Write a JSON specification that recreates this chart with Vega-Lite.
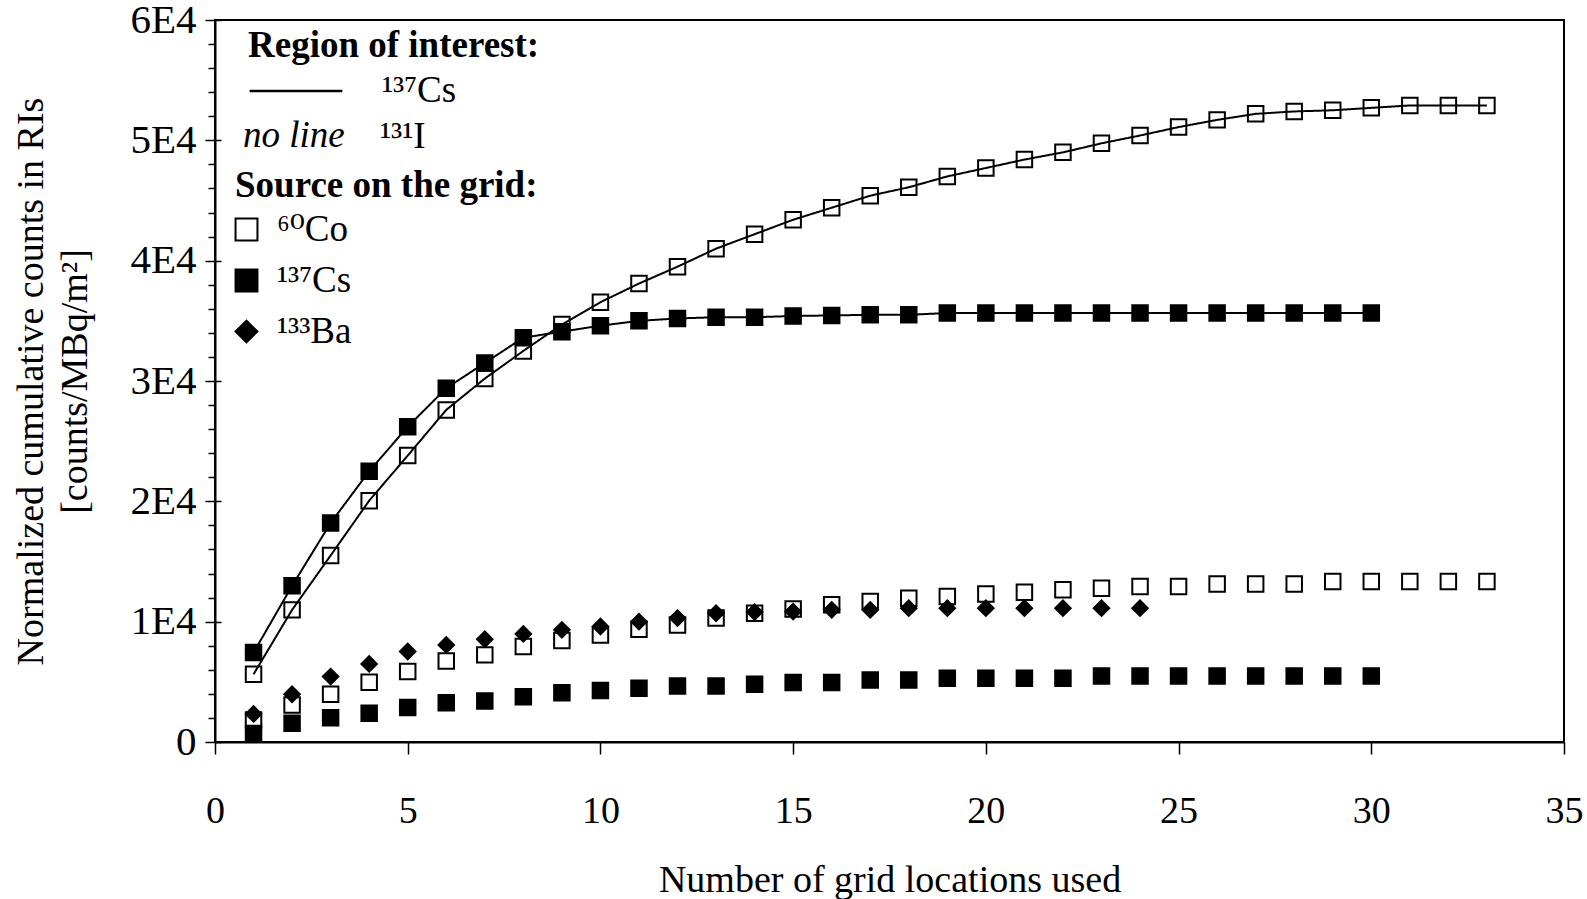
{
  "$schema": "https://vega.github.io/schema/vega-lite/v6.json",
  "width": 1349,
  "height": 722,
  "autosize": {"type": "none"},
  "padding": {"left": 215, "top": 20, "right": 23, "bottom": 157},
  "background": "white",
  "config": {
    "font": "Liberation Serif",
    "view": {"stroke": "black", "strokeWidth": 2},
    "axis": {
      "domainColor": "black", "domainWidth": 2, "tickColor": "black", "tickWidth": 1.5,
      "labelFont": "Liberation Serif", "labelFontSize": 38, "labelColor": "black",
      "titleFont": "Liberation Serif", "titleFontSize": 38, "titleFontWeight": "normal", "titleColor": "black",
      "grid": false
    },
    "legend": {
      "titleFont": "Liberation Serif", "labelFont": "Liberation Serif, DejaVu Serif", "titleColor": "black", "labelColor": "black",
      "titleFontSize": 37, "labelFontSize": 37, "padding": 0, "titleLimit": 1000, "labelLimit": 1000
    }
  },
  "data": {
    "values": [
      {"x": 1, "v": 700, "source": "¹³⁷Cs", "roi": "¹³¹I"},
      {"x": 2, "v": 1550, "source": "¹³⁷Cs", "roi": "¹³¹I"},
      {"x": 3, "v": 2020, "source": "¹³⁷Cs", "roi": "¹³¹I"},
      {"x": 4, "v": 2380, "source": "¹³⁷Cs", "roi": "¹³¹I"},
      {"x": 5, "v": 2860, "source": "¹³⁷Cs", "roi": "¹³¹I"},
      {"x": 6, "v": 3270, "source": "¹³⁷Cs", "roi": "¹³¹I"},
      {"x": 7, "v": 3410, "source": "¹³⁷Cs", "roi": "¹³¹I"},
      {"x": 8, "v": 3770, "source": "¹³⁷Cs", "roi": "¹³¹I"},
      {"x": 9, "v": 4100, "source": "¹³⁷Cs", "roi": "¹³¹I"},
      {"x": 10, "v": 4270, "source": "¹³⁷Cs", "roi": "¹³¹I"},
      {"x": 11, "v": 4460, "source": "¹³⁷Cs", "roi": "¹³¹I"},
      {"x": 12, "v": 4660, "source": "¹³⁷Cs", "roi": "¹³¹I"},
      {"x": 13, "v": 4660, "source": "¹³⁷Cs", "roi": "¹³¹I"},
      {"x": 14, "v": 4800, "source": "¹³⁷Cs", "roi": "¹³¹I"},
      {"x": 15, "v": 4940, "source": "¹³⁷Cs", "roi": "¹³¹I"},
      {"x": 16, "v": 4940, "source": "¹³⁷Cs", "roi": "¹³¹I"},
      {"x": 17, "v": 5160, "source": "¹³⁷Cs", "roi": "¹³¹I"},
      {"x": 18, "v": 5160, "source": "¹³⁷Cs", "roi": "¹³¹I"},
      {"x": 19, "v": 5300, "source": "¹³⁷Cs", "roi": "¹³¹I"},
      {"x": 20, "v": 5300, "source": "¹³⁷Cs", "roi": "¹³¹I"},
      {"x": 21, "v": 5300, "source": "¹³⁷Cs", "roi": "¹³¹I"},
      {"x": 22, "v": 5300, "source": "¹³⁷Cs", "roi": "¹³¹I"},
      {"x": 23, "v": 5490, "source": "¹³⁷Cs", "roi": "¹³¹I"},
      {"x": 24, "v": 5490, "source": "¹³⁷Cs", "roi": "¹³¹I"},
      {"x": 25, "v": 5490, "source": "¹³⁷Cs", "roi": "¹³¹I"},
      {"x": 26, "v": 5490, "source": "¹³⁷Cs", "roi": "¹³¹I"},
      {"x": 27, "v": 5490, "source": "¹³⁷Cs", "roi": "¹³¹I"},
      {"x": 28, "v": 5490, "source": "¹³⁷Cs", "roi": "¹³¹I"},
      {"x": 29, "v": 5490, "source": "¹³⁷Cs", "roi": "¹³¹I"},
      {"x": 30, "v": 5490, "source": "¹³⁷Cs", "roi": "¹³¹I"},
      {"x": 1, "v": 1830, "source": "⁶⁰Co", "roi": "¹³¹I"},
      {"x": 2, "v": 3080, "source": "⁶⁰Co", "roi": "¹³¹I"},
      {"x": 3, "v": 3970, "source": "⁶⁰Co", "roi": "¹³¹I"},
      {"x": 4, "v": 4960, "source": "⁶⁰Co", "roi": "¹³¹I"},
      {"x": 5, "v": 5850, "source": "⁶⁰Co", "roi": "¹³¹I"},
      {"x": 6, "v": 6740, "source": "⁶⁰Co", "roi": "¹³¹I"},
      {"x": 7, "v": 7240, "source": "⁶⁰Co", "roi": "¹³¹I"},
      {"x": 8, "v": 7930, "source": "⁶⁰Co", "roi": "¹³¹I"},
      {"x": 9, "v": 8430, "source": "⁶⁰Co", "roi": "¹³¹I"},
      {"x": 10, "v": 8900, "source": "⁶⁰Co", "roi": "¹³¹I"},
      {"x": 11, "v": 9370, "source": "⁶⁰Co", "roi": "¹³¹I"},
      {"x": 12, "v": 9730, "source": "⁶⁰Co", "roi": "¹³¹I"},
      {"x": 13, "v": 10300, "source": "⁶⁰Co", "roi": "¹³¹I"},
      {"x": 14, "v": 10700, "source": "⁶⁰Co", "roi": "¹³¹I"},
      {"x": 15, "v": 11060, "source": "⁶⁰Co", "roi": "¹³¹I"},
      {"x": 16, "v": 11400, "source": "⁶⁰Co", "roi": "¹³¹I"},
      {"x": 17, "v": 11670, "source": "⁶⁰Co", "roi": "¹³¹I"},
      {"x": 18, "v": 11950, "source": "⁶⁰Co", "roi": "¹³¹I"},
      {"x": 19, "v": 12090, "source": "⁶⁰Co", "roi": "¹³¹I"},
      {"x": 20, "v": 12300, "source": "⁶⁰Co", "roi": "¹³¹I"},
      {"x": 21, "v": 12450, "source": "⁶⁰Co", "roi": "¹³¹I"},
      {"x": 22, "v": 12650, "source": "⁶⁰Co", "roi": "¹³¹I"},
      {"x": 23, "v": 12780, "source": "⁶⁰Co", "roi": "¹³¹I"},
      {"x": 24, "v": 12920, "source": "⁶⁰Co", "roi": "¹³¹I"},
      {"x": 25, "v": 12920, "source": "⁶⁰Co", "roi": "¹³¹I"},
      {"x": 26, "v": 13140, "source": "⁶⁰Co", "roi": "¹³¹I"},
      {"x": 27, "v": 13140, "source": "⁶⁰Co", "roi": "¹³¹I"},
      {"x": 28, "v": 13140, "source": "⁶⁰Co", "roi": "¹³¹I"},
      {"x": 29, "v": 13340, "source": "⁶⁰Co", "roi": "¹³¹I"},
      {"x": 30, "v": 13340, "source": "⁶⁰Co", "roi": "¹³¹I"},
      {"x": 31, "v": 13340, "source": "⁶⁰Co", "roi": "¹³¹I"},
      {"x": 32, "v": 13340, "source": "⁶⁰Co", "roi": "¹³¹I"},
      {"x": 33, "v": 13340, "source": "⁶⁰Co", "roi": "¹³¹I"},
      {"x": 1, "v": 2330, "source": "¹³³Ba", "roi": "¹³¹I"},
      {"x": 2, "v": 3970, "source": "¹³³Ba", "roi": "¹³¹I"},
      {"x": 3, "v": 5440, "source": "¹³³Ba", "roi": "¹³¹I"},
      {"x": 4, "v": 6490, "source": "¹³³Ba", "roi": "¹³¹I"},
      {"x": 5, "v": 7520, "source": "¹³³Ba", "roi": "¹³¹I"},
      {"x": 6, "v": 8070, "source": "¹³³Ba", "roi": "¹³¹I"},
      {"x": 7, "v": 8540, "source": "¹³³Ba", "roi": "¹³¹I"},
      {"x": 8, "v": 8980, "source": "¹³³Ba", "roi": "¹³¹I"},
      {"x": 9, "v": 9320, "source": "¹³³Ba", "roi": "¹³¹I"},
      {"x": 10, "v": 9600, "source": "¹³³Ba", "roi": "¹³¹I"},
      {"x": 11, "v": 10000, "source": "¹³³Ba", "roi": "¹³¹I"},
      {"x": 12, "v": 10300, "source": "¹³³Ba", "roi": "¹³¹I"},
      {"x": 13, "v": 10700, "source": "¹³³Ba", "roi": "¹³¹I"},
      {"x": 14, "v": 10800, "source": "¹³³Ba", "roi": "¹³¹I"},
      {"x": 15, "v": 10840, "source": "¹³³Ba", "roi": "¹³¹I"},
      {"x": 16, "v": 10980, "source": "¹³³Ba", "roi": "¹³¹I"},
      {"x": 17, "v": 10980, "source": "¹³³Ba", "roi": "¹³¹I"},
      {"x": 18, "v": 11120, "source": "¹³³Ba", "roi": "¹³¹I"},
      {"x": 19, "v": 11120, "source": "¹³³Ba", "roi": "¹³¹I"},
      {"x": 20, "v": 11120, "source": "¹³³Ba", "roi": "¹³¹I"},
      {"x": 21, "v": 11120, "source": "¹³³Ba", "roi": "¹³¹I"},
      {"x": 22, "v": 11120, "source": "¹³³Ba", "roi": "¹³¹I"},
      {"x": 23, "v": 11120, "source": "¹³³Ba", "roi": "¹³¹I"},
      {"x": 24, "v": 11120, "source": "¹³³Ba", "roi": "¹³¹I"},
      {"x": 1, "v": 7430, "source": "¹³⁷Cs", "roi": "¹³⁷Cs"},
      {"x": 2, "v": 12980, "source": "¹³⁷Cs", "roi": "¹³⁷Cs"},
      {"x": 3, "v": 18200, "source": "¹³⁷Cs", "roi": "¹³⁷Cs"},
      {"x": 4, "v": 22500, "source": "¹³⁷Cs", "roi": "¹³⁷Cs"},
      {"x": 5, "v": 26200, "source": "¹³⁷Cs", "roi": "¹³⁷Cs"},
      {"x": 6, "v": 29400, "source": "¹³⁷Cs", "roi": "¹³⁷Cs"},
      {"x": 7, "v": 31500, "source": "¹³⁷Cs", "roi": "¹³⁷Cs"},
      {"x": 8, "v": 33600, "source": "¹³⁷Cs", "roi": "¹³⁷Cs"},
      {"x": 9, "v": 34100, "source": "¹³⁷Cs", "roi": "¹³⁷Cs"},
      {"x": 10, "v": 34600, "source": "¹³⁷Cs", "roi": "¹³⁷Cs"},
      {"x": 11, "v": 35000, "source": "¹³⁷Cs", "roi": "¹³⁷Cs"},
      {"x": 12, "v": 35200, "source": "¹³⁷Cs", "roi": "¹³⁷Cs"},
      {"x": 13, "v": 35300, "source": "¹³⁷Cs", "roi": "¹³⁷Cs"},
      {"x": 14, "v": 35300, "source": "¹³⁷Cs", "roi": "¹³⁷Cs"},
      {"x": 15, "v": 35400, "source": "¹³⁷Cs", "roi": "¹³⁷Cs"},
      {"x": 16, "v": 35450, "source": "¹³⁷Cs", "roi": "¹³⁷Cs"},
      {"x": 17, "v": 35500, "source": "¹³⁷Cs", "roi": "¹³⁷Cs"},
      {"x": 18, "v": 35500, "source": "¹³⁷Cs", "roi": "¹³⁷Cs"},
      {"x": 19, "v": 35650, "source": "¹³⁷Cs", "roi": "¹³⁷Cs"},
      {"x": 20, "v": 35650, "source": "¹³⁷Cs", "roi": "¹³⁷Cs"},
      {"x": 21, "v": 35650, "source": "¹³⁷Cs", "roi": "¹³⁷Cs"},
      {"x": 22, "v": 35650, "source": "¹³⁷Cs", "roi": "¹³⁷Cs"},
      {"x": 23, "v": 35650, "source": "¹³⁷Cs", "roi": "¹³⁷Cs"},
      {"x": 24, "v": 35650, "source": "¹³⁷Cs", "roi": "¹³⁷Cs"},
      {"x": 25, "v": 35650, "source": "¹³⁷Cs", "roi": "¹³⁷Cs"},
      {"x": 26, "v": 35650, "source": "¹³⁷Cs", "roi": "¹³⁷Cs"},
      {"x": 27, "v": 35650, "source": "¹³⁷Cs", "roi": "¹³⁷Cs"},
      {"x": 28, "v": 35650, "source": "¹³⁷Cs", "roi": "¹³⁷Cs"},
      {"x": 29, "v": 35650, "source": "¹³⁷Cs", "roi": "¹³⁷Cs"},
      {"x": 30, "v": 35650, "source": "¹³⁷Cs", "roi": "¹³⁷Cs"},
      {"x": 1, "v": 5630, "source": "⁶⁰Co", "roi": "¹³⁷Cs"},
      {"x": 2, "v": 10980, "source": "⁶⁰Co", "roi": "¹³⁷Cs"},
      {"x": 3, "v": 15500, "source": "⁶⁰Co", "roi": "¹³⁷Cs"},
      {"x": 4, "v": 20050, "source": "⁶⁰Co", "roi": "¹³⁷Cs"},
      {"x": 5, "v": 23800, "source": "⁶⁰Co", "roi": "¹³⁷Cs"},
      {"x": 6, "v": 27600, "source": "⁶⁰Co", "roi": "¹³⁷Cs"},
      {"x": 7, "v": 30200, "source": "⁶⁰Co", "roi": "¹³⁷Cs"},
      {"x": 8, "v": 32500, "source": "⁶⁰Co", "roi": "¹³⁷Cs"},
      {"x": 9, "v": 34700, "source": "⁶⁰Co", "roi": "¹³⁷Cs"},
      {"x": 10, "v": 36550, "source": "⁶⁰Co", "roi": "¹³⁷Cs"},
      {"x": 11, "v": 38100, "source": "⁶⁰Co", "roi": "¹³⁷Cs"},
      {"x": 12, "v": 39500, "source": "⁶⁰Co", "roi": "¹³⁷Cs"},
      {"x": 13, "v": 41000, "source": "⁶⁰Co", "roi": "¹³⁷Cs"},
      {"x": 14, "v": 42200, "source": "⁶⁰Co", "roi": "¹³⁷Cs"},
      {"x": 15, "v": 43400, "source": "⁶⁰Co", "roi": "¹³⁷Cs"},
      {"x": 16, "v": 44400, "source": "⁶⁰Co", "roi": "¹³⁷Cs"},
      {"x": 17, "v": 45400, "source": "⁶⁰Co", "roi": "¹³⁷Cs"},
      {"x": 18, "v": 46100, "source": "⁶⁰Co", "roi": "¹³⁷Cs"},
      {"x": 19, "v": 47000, "source": "⁶⁰Co", "roi": "¹³⁷Cs"},
      {"x": 20, "v": 47700, "source": "⁶⁰Co", "roi": "¹³⁷Cs"},
      {"x": 21, "v": 48400, "source": "⁶⁰Co", "roi": "¹³⁷Cs"},
      {"x": 22, "v": 49000, "source": "⁶⁰Co", "roi": "¹³⁷Cs"},
      {"x": 23, "v": 49750, "source": "⁶⁰Co", "roi": "¹³⁷Cs"},
      {"x": 24, "v": 50400, "source": "⁶⁰Co", "roi": "¹³⁷Cs"},
      {"x": 25, "v": 51100, "source": "⁶⁰Co", "roi": "¹³⁷Cs"},
      {"x": 26, "v": 51700, "source": "⁶⁰Co", "roi": "¹³⁷Cs"},
      {"x": 27, "v": 52200, "source": "⁶⁰Co", "roi": "¹³⁷Cs"},
      {"x": 28, "v": 52400, "source": "⁶⁰Co", "roi": "¹³⁷Cs"},
      {"x": 29, "v": 52500, "source": "⁶⁰Co", "roi": "¹³⁷Cs"},
      {"x": 30, "v": 52700, "source": "⁶⁰Co", "roi": "¹³⁷Cs"},
      {"x": 31, "v": 52900, "source": "⁶⁰Co", "roi": "¹³⁷Cs"},
      {"x": 32, "v": 52900, "source": "⁶⁰Co", "roi": "¹³⁷Cs"},
      {"x": 33, "v": 52900, "source": "⁶⁰Co", "roi": "¹³⁷Cs"}
    ]
  },
  "resolve": {"axis": {"y": "independent"}},
  "layer": [
    {
      "transform": [{"filter": "datum.roi == '¹³⁷Cs'"}],
      "mark": {"type": "line", "color": "black", "strokeWidth": 2},
      "encoding": {
        "x": {
          "field": "x", "type": "quantitative",
          "scale": {"domain": [0, 35], "nice": false, "zero": false},
          "axis": {"values": [0, 5, 10, 15, 20, 25, 30, 35], "tickSize": 12, "labelPadding": 38, "title": "Number of grid locations used", "titlePadding": 31, "labelFlush": false}
        },
        "y": {
          "field": "v", "type": "quantitative",
          "scale": {"domain": [0, 60000], "nice": false},
          "axis": {
            "orient": "left",
            "values": [0, 10000, 20000, 30000, 40000, 50000, 60000],
            "labelExpr": "datum.value == 0 ? '0' : (datum.value / 10000) + 'E4'",
            "labelFontSize": 41,
            "tickSize": 10, "labelPadding": 9, "labelFlush": false,
            "title": ["Normalized cumulative counts in RIs", "[counts/MBq/m²]"],
            "titlePadding": 35, "titleLineHeight": 44
          }
        },
        "detail": {"field": "source", "type": "nominal"},
        "strokeDash": {
          "field": "roi", "type": "nominal",
          "scale": {"domain": ["¹³⁷Cs"], "range": [[1, 0]]},
          "legend": {
            "title": "Region of interest:", "orient": "none", "legendX": 33, "legendY": 8,
            "titleFontWeight": "bold", "titlePadding": -22,
            "symbolType": "stroke", "symbolSize": 8600, "symbolStrokeWidth": 2.5, "symbolStrokeColor": "black",
            "labelOffset": 38
          }
        }
      }
    },
    {
      "transform": [{"filter": "datum.roi == '¹³¹I'"}],
      "mark": {"type": "point", "filled": true, "strokeWidth": 2, "size": 240, "opacity": 1},
      "encoding": {
        "x": {"field": "x", "type": "quantitative"},
        "y": {
          "field": "v", "type": "quantitative",
          "axis": {"orient": "left", "values": [0, 10000, 20000, 30000, 40000, 50000, 60000], "labels": false, "domain": false, "tickSize": 6, "offset": -6, "title": null}
        },
        "shape": {
          "field": "source", "type": "nominal",
          "scale": {"domain": ["⁶⁰Co", "¹³⁷Cs", "¹³³Ba"], "range": ["square", "square", "diamond"]},
          "legend": {
            "title": "Source on the grid:", "orient": "none", "legendX": 20, "legendY": 148,
            "titleFontWeight": "bold", "titlePadding": 6, "symbolSize": 480, "symbolStrokeWidth": 2, "symbolOffset": -7,
            "labelOffset": 12, "rowPadding": 13
          }
        },
        "fill": {
          "field": "source", "type": "nominal",
          "scale": {"domain": ["⁶⁰Co", "¹³⁷Cs", "¹³³Ba"], "range": ["transparent", "black", "black"]},
          "legend": {
            "title": "Source on the grid:", "orient": "none", "legendX": 20, "legendY": 148,
            "titleFontWeight": "bold", "titlePadding": 6, "symbolSize": 480, "symbolStrokeWidth": 2, "symbolOffset": -7,
            "labelOffset": 12, "rowPadding": 13
          }
        },
        "stroke": {
          "field": "source", "type": "nominal",
          "scale": {"domain": ["⁶⁰Co", "¹³⁷Cs", "¹³³Ba"], "range": ["black", "black", "black"]},
          "legend": {
            "title": "Source on the grid:", "orient": "none", "legendX": 20, "legendY": 148,
            "titleFontWeight": "bold", "titlePadding": 6, "symbolSize": 480, "symbolStrokeWidth": 2, "symbolOffset": -7,
            "labelOffset": 12, "rowPadding": 13
          }
        },
        "opacity": {
          "field": "roi", "type": "nominal",
          "scale": {"domain": ["¹³¹I"], "range": [1]},
          "legend": {
            "title": "no line", "titleOrient": "left", "titleFontStyle": "italic", "titleFontWeight": "normal",
            "orient": "none", "legendX": 28, "legendY": 98, "titlePadding": 8,
            "symbolSize": 0, "symbolFillColor": "transparent", "symbolStrokeColor": "transparent", "labelOffset": -10
          }
        }
      }
    },
    {
      "transform": [{"filter": "datum.roi == '¹³⁷Cs'"}],
      "mark": {"type": "point", "filled": true, "strokeWidth": 2, "size": 240, "opacity": 1},
      "encoding": {
        "x": {"field": "x", "type": "quantitative"},
        "y": {
          "field": "v", "type": "quantitative",
          "axis": {"orient": "left", "values": [2000, 4000, 6000, 8000, 12000, 14000, 16000, 18000, 22000, 24000, 26000, 28000, 32000, 34000, 36000, 38000, 42000, 44000, 46000, 48000, 52000, 54000, 56000, 58000], "labels": false, "domain": false, "tickSize": 7, "title": null}
        },
        "shape": {"field": "source", "type": "nominal"},
        "fill": {"field": "source", "type": "nominal"},
        "stroke": {"field": "source", "type": "nominal"}
      }
    }
  ]
}
